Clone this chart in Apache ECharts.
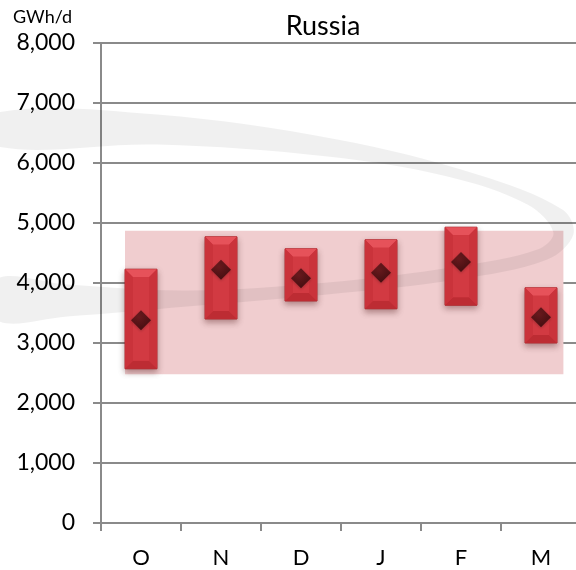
<!DOCTYPE html>
<html lang="en">
<head>
    <meta charset="utf-8">
    <title>Russia</title>
    <script src="https://cdn.jsdelivr.net/npm/echarts@6/dist/echarts.min.js"></script>
    <style type="text/css">
        html, body { height: 100%; margin: 0; background: #fff; }
    </style>
</head>
<body>
    <div id="main" style="width:576px;height:570px;"></div>
    <script type="text/javascript">
        // data
        var months = ['O', 'N', 'D', 'J', 'F', 'M'];
        var lowVals = [2570, 3400, 3700, 3570, 3630, 3000];
        var highVals = [4230, 4770, 4570, 4720, 4930, 3920];
        var avgVals = [3380, 4220, 4080, 4170, 4350, 3430];
        var bandRange = [2480, 4870];
        var yTicks = [0, 1000, 2000, 3000, 4000, 5000, 6000, 7000, 8000];

        var font = 'Lato, "Open Sans", sans-serif';
        var lineGrey = '#8a8a8a';

        var myChart = echarts.init(document.getElementById('main'));

        // bevelled red box between low and high
        function renderBox(params, api) {
            var idx = api.value(0);
            var top = api.coord([idx, api.value(2)]);
            var bot = api.coord([idx, api.value(1)]);
            var w = api.size([1, 0])[0] * 0.4;
            var x = top[0] - w / 2, y = top[1], h = bot[1] - top[1];
            var b = Math.min(8, h / 4);
            return {
                type: 'group',
                children: [
                    { type: 'rect', shape: { x: x, y: y, width: w, height: h },
                      style: { fill: '#cf363e', stroke: '#a9272d', lineWidth: 1,
                               shadowBlur: 6, shadowOffsetY: 3, shadowColor: 'rgba(60,0,0,0.35)' } },
                    { type: 'polygon', shape: { points: [[x, y], [x + w, y], [x + w - b, y + b], [x + b, y + b]] },
                      style: { fill: '#e6525a' } },
                    { type: 'polygon', shape: { points: [[x, y + h], [x + w, y + h], [x + w - b, y + h - b], [x + b, y + h - b]] },
                      style: { fill: '#bd2c33' } },
                    { type: 'polygon', shape: { points: [[x, y], [x + b, y + b], [x + b, y + h - b], [x, y + h]] },
                      style: { fill: '#ca333b' } },
                    { type: 'polygon', shape: { points: [[x + w, y], [x + w - b, y + b], [x + w - b, y + h - b], [x + w, y + h]] },
                      style: { fill: '#ca333b' } },
                    { type: 'rect', shape: { x: x + b, y: y + b, width: w - 2 * b, height: Math.max(0, h - 2 * b) },
                      style: { fill: '#d23a42' } }
                ]
            };
        }

        // pale band spanning all months
        function renderBand(params, api) {
            var p1 = api.coord([api.value(0), api.value(3)]);
            var p2 = api.coord([api.value(1), api.value(2)]);
            var cw = api.size([1, 0])[0];
            return {
                type: 'rect',
                shape: { x: p1[0] - cw * 0.2, y: p1[1], width: p2[0] - p1[0] + cw * 0.48, height: p2[1] - p1[1] },
                style: { fill: '#f0cdcf' }
            };
        }

        var boxData = months.map(function (m, i) { return [i, lowVals[i], highVals[i]]; });

        var option = {
            animation: false,
            backgroundColor: '#fff',
            textStyle: { fontFamily: font },
            title: {
                text: 'Russia',
                left: 318, top: 8, textAlign: 'center',
                textStyle: { fontFamily: font, fontSize: 27, fontWeight: 'normal', color: '#000' }
            },
            graphic: [
                { type: 'text', left: 13, top: 8,
                  style: { text: 'GWh/d', font: '18px ' + font, fill: '#000' } },
                // grey swoosh watermark behind the plot
                { type: 'polygon', z: 1, silent: true, left: -10, top: 108,
                  shape: { smooth: 0.35, points: [
                      [-10, 108], [150, 110], [330, 135], [470, 170], [555, 205], [566, 230], [540, 255],
                      [450, 275], [320, 290], [180, 302], [60, 312], [-10, 316],
                      [-10, 274], [60, 280], [180, 286], [320, 278], [450, 262], [530, 245], [546, 228],
                      [520, 200], [440, 172], [320, 152], [150, 140], [-10, 142]
                  ] },
                  style: { fill: 'rgba(0,0,0,0.06)' } }
            ],
            grid: { left: 101, top: 43, width: 480, bottom: 47, outerBoundsMode: 'none' },
            xAxis: {
                type: 'category',
                data: months,
                axisLine: { lineStyle: { color: lineGrey, width: 2 } },
                axisTick: { show: true, length: 8, lineStyle: { color: lineGrey, width: 2 } },
                axisLabel: { color: '#000', fontSize: 22, fontFamily: font, margin: 24 },
                splitLine: { show: false }
            },
            yAxis: {
                type: 'value',
                min: 0, max: 8000, interval: 1000,
                axisLine: { show: true, lineStyle: { color: lineGrey, width: 2 } },
                axisTick: { show: true, length: 8, lineStyle: { color: lineGrey, width: 2 } },
                axisLabel: {
                    color: '#000', fontSize: 23, fontFamily: font, margin: 26,
                    formatter: function (v) { return yTicks.indexOf(v) >= 0 ? v.toLocaleString('en-US') : ''; }
                },
                splitLine: { lineStyle: { color: lineGrey, width: 2 } }
            },
            series: [
                {
                    type: 'custom', name: 'band', z: 0,
                    renderItem: renderBand,
                    data: [[0, months.length - 1, bandRange[0], bandRange[1]]],
                    encode: { x: [0, 1], y: [2, 3] },
                    silent: true
                },
                {
                    type: 'custom', name: 'range', z: 3,
                    renderItem: renderBox,
                    data: boxData,
                    encode: { x: 0, y: [1, 2] }
                },
                {
                    type: 'scatter', name: 'average', z: 4,
                    data: avgVals,
                    symbol: 'diamond', symbolSize: [20, 20],
                    itemStyle: {
                        color: {
                            type: 'radial', x: 0.4, y: 0.35, r: 0.7,
                            colorStops: [{ offset: 0, color: '#5a1518' }, { offset: 1, color: '#2b0507' }]
                        },
                        shadowBlur: 3, shadowColor: 'rgba(0,0,0,0.3)', shadowOffsetY: 1
                    }
                }
            ]
        };

        myChart.setOption(option);
    </script>
</body>
</html>
